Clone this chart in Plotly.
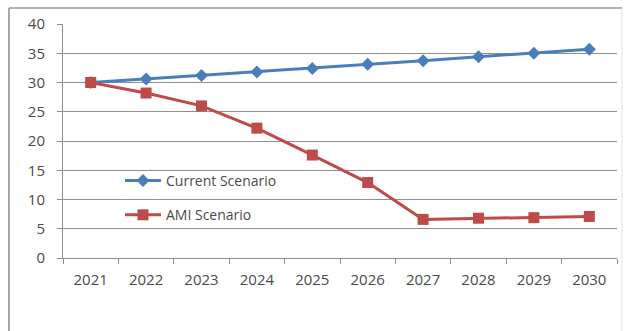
import plotly.graph_objects as go

years = ["2021", "2022", "2023", "2024", "2025", "2026", "2027", "2028", "2029", "2030"]
current_scenario = [30.0, 30.6, 31.2, 31.8, 32.4, 33.1, 33.7, 34.4, 35.0, 35.7]
ami_scenario = [30.0, 28.2, 26.0, 22.2, 17.6, 12.9, 6.6, 6.8, 6.9, 7.1]
y_ticks = [0, 5, 10, 15, 20, 25, 30, 35, 40]

BLUE = "#4a7ebb"
RED = "#be4b48"
GRID = "#8e8e8e"
TEXT = "#4a4a4a"
FONT = "Open Sans"

W, H = 625, 331
L, R, T, B = 63, 8, 24, 73
pw, ph = W - L - R, H - T - B


def px_x(x):
    return (x - L) / pw


def px_y(y):
    return (H - B - y) / ph


fig = go.Figure()
fig.add_trace(go.Scatter(
    x=years, y=current_scenario, name="Current Scenario", mode="lines+markers",
    line=dict(color=BLUE, width=3),
    marker=dict(symbol="diamond", size=10, color=BLUE),
    legendgroup="a",
))
fig.add_trace(go.Scatter(
    x=years, y=ami_scenario, name="AMI Scenario", mode="lines+markers",
    line=dict(color=RED, width=3),
    marker=dict(symbol="square", size=11, color=RED),
    legendgroup="b",
))

# outer chart frame
fig.add_shape(type="line", xref="paper", yref="paper",
              x0=px_x(9), x1=px_x(9), y0=px_y(8), y1=px_y(340),
              line=dict(color="#8a8a8a", width=1.5))
fig.add_shape(type="line", xref="paper", yref="paper",
              x0=px_x(9), x1=px_x(622), y0=px_y(8), y1=px_y(8),
              line=dict(color="#9a9a9a", width=1.5))
fig.add_shape(type="line", xref="paper", yref="paper",
              x0=px_x(622), x1=px_x(622), y0=px_y(8), y1=px_y(340),
              line=dict(color="#e4e4e4", width=1))

fig.update_layout(
    width=W, height=H,
    margin=dict(l=L, r=R, t=T, b=B),
    paper_bgcolor="white", plot_bgcolor="white",
    font=dict(family=FONT, color=TEXT, size=14),
    showlegend=True,
    legend=dict(
        x=px_x(120), y=px_y(165), xanchor="left", yanchor="top",
        bgcolor="rgba(0,0,0,0)", font=dict(family=FONT, size=14, color=TEXT),
        tracegroupgap=13, itemwidth=36,
    ),
    xaxis=dict(
        type="category", showgrid=False, showline=True, linecolor=GRID, linewidth=1,
        ticks="outside", tickson="boundaries", ticklen=5, tickcolor=GRID,
        ticklabelstandoff=8,
        tickfont=dict(family=FONT, size=15, color=TEXT),
        range=[-0.5, len(years) - 0.5], fixedrange=True,
    ),
    yaxis=dict(
        range=[0, 40], tickvals=y_ticks, showgrid=True, gridcolor=GRID, gridwidth=1,
        showline=True, linecolor=GRID, linewidth=1, zeroline=False,
        ticks="outside", ticklen=5, tickcolor=GRID,
        ticklabelstandoff=9,
        tickfont=dict(family=FONT, size=15, color=TEXT),
    ),
)

fig.write_html("out.html")
